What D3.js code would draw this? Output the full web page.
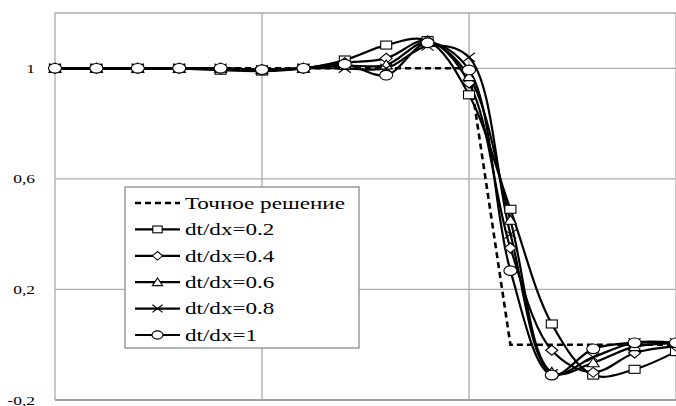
<!DOCTYPE html>
<html><head><meta charset="utf-8">
<script src="https://cdn.jsdelivr.net/npm/d3@7"></script>
<style>html,body{margin:0;padding:0;background:#fff;overflow:hidden}
text{font-family:"Liberation Serif","Times New Roman",serif;}</style>
</head><body>
<svg id="c" width="676" height="406"></svg>
<script>
const xValues = [0,0.2,0.4,0.6,0.8,1.0,1.2,1.4,1.6,1.8,2.0,2.2,2.4,2.6,2.8,3.0];
const exact  = [1,1,1,1,1,1,1,1,1,1,1,0,0,0,0,0];
const s02 = [1,1,1,1,0.993,0.99,1,1.03,1.084,1.1,0.904,0.49,0.075,-0.11,-0.089,-0.025];
const s04 = [1,1,1,1,1,0.995,1,1.02,1.036,1.1,0.947,0.35,-0.02,-0.1,-0.03,-0.005];
const s06 = [1,1,1,1,1,0.995,1,1.01,1.012,1.095,0.97,0.45,-0.1,-0.065,-0.007,0.005];
const s08 = [1,1,1,1,1,0.995,1,1.0,1.0,1.08,1.04,0.40,-0.105,-0.045,0.007,0.007];
const s10 = [1,1,1,1,1,0.995,1,1.015,0.975,1.092,0.994,0.268,-0.11,-0.015,0.007,0.007];
const seriesNames = ["dt/dx=0.2","dt/dx=0.4","dt/dx=0.6","dt/dx=0.8","dt/dx=1"];
const seriesMarkers = ["square","diamond","triangle","cross","circle"];
const exactName = "Точное решение";
const yTicks = [-0.2,0.2,0.6,1.0];
const yTickLabels = ["-0,2","0,2","0,6","1"];
const xGrid = [0,1,2,3];

const seriesData = [s02,s04,s06,s08,s10];
const svg = d3.select("#c");
const pL=55, pR=676, pT=13, pB=400;
const x = d3.scaleLinear().domain([0,3]).range([pL,pR]);
const y = d3.scaleLinear().domain([-0.2,1.2]).range([pB,pT]);
const SX = 1.4;
const gridCol = "#ababab";

svg.append("g").selectAll("line").data(yTicks.concat([1.2])).join("line")
  .attr("x1",pL).attr("x2",pR).attr("y1",d=>y(d)).attr("y2",d=>y(d))
  .attr("stroke",gridCol).attr("stroke-width",1.3);
svg.append("g").selectAll("line").data(xGrid).join("line")
  .attr("x1",d=>x(d)).attr("x2",d=>x(d)).attr("y1",pT).attr("y2",pB)
  .attr("stroke",gridCol).attr("stroke-width",1.3);
svg.append("line").attr("x1",pL).attr("x2",pR).attr("y1",y(-0.2)).attr("y2",y(-0.2))
  .attr("stroke","#999").attr("stroke-width",1.5);

svg.append("g").selectAll("text").data(yTicks).join("text")
  .attr("transform",(d)=>`translate(35,${y(d)}) scale(${SX},1)`)
  .attr("text-anchor","end").attr("dominant-baseline","central")
  .attr("font-size",12.5)
  .attr("fill","#000").text((d,i)=>yTickLabels[i]);

const pts = a => a.map((v,i)=>[x(xValues[i]), y(v)]);
svg.append("path").attr("d", d3.line()(pts(exact)))
  .attr("fill","none").attr("stroke","#000").attr("stroke-width",2.6).attr("stroke-dasharray","6,4");

const smooth = d3.line().curve(d3.curveCatmullRom.alpha(0.5));
seriesData.forEach(s=>{
  svg.append("path").attr("d", smooth(pts(s)))
    .attr("fill","none").attr("stroke","#000").attr("stroke-width",2.2);
});

function marker(g, type, cx, cy, k){
  k = k||1;
  const st = {fill:"#fff", stroke:"#000", "stroke-width":1.1};
  let el;
  if(type==="square"){
    el = g.append("rect").attr("x",cx-5.5*k).attr("y",cy-4*k).attr("width",11*k).attr("height",8*k);
  } else if(type==="diamond"){
    el = g.append("path").attr("d",`M${cx-6*k},${cy}L${cx},${cy-5*k}L${cx+6*k},${cy}L${cx},${cy+5*k}Z`);
  } else if(type==="triangle"){
    el = g.append("path").attr("d",`M${cx-6*k},${cy+4*k}L${cx},${cy-5*k}L${cx+6*k},${cy+4*k}Z`);
  } else if(type==="cross"){
    el = g.append("path").attr("d",`M${cx-6*k},${cy-4.5*k}L${cx+6*k},${cy+4.5*k}M${cx-6*k},${cy+4.5*k}L${cx+6*k},${cy-4.5*k}`);
    st.fill="none";
  } else {
    el = g.append("ellipse").attr("cx",cx).attr("cy",cy).attr("rx",6.5*k).attr("ry",4.8*k);
  }
  Object.entries(st).forEach(([a,v])=>el.attr(a,v));
}
seriesData.forEach((s,si)=>{
  const g = svg.append("g");
  pts(s).forEach(p=>marker(g, seriesMarkers[si], p[0], p[1]));
});

const lg = svg.append("g");
const lx=125, ly=187, lw=234, lh=161;
lg.append("rect").attr("x",lx).attr("y",ly).attr("width",lw).attr("height",lh)
  .attr("fill","#fff").attr("stroke","#8a8a8a").attr("stroke-width",1.3);
const rowY = i => 203 + i*26.4;
const names = [exactName].concat(seriesNames);
names.forEach((n,i)=>{
  const yy = rowY(i);
  const ln = lg.append("line").attr("x1",135).attr("x2",180).attr("y1",yy).attr("y2",yy)
    .attr("stroke","#000").attr("stroke-width",i===0?2.6:2.2);
  if(i===0) ln.attr("stroke-dasharray","6,4");
  else marker(lg, seriesMarkers[i-1], 157.5, yy, 0.85);
  lg.append("text").attr("transform",`translate(185,${yy}) scale(${SX},1)`)
    .attr("dominant-baseline","central")
    .attr("font-size",16.5)
    .attr("fill","#000").text(n);
});
</script>
</body></html>
